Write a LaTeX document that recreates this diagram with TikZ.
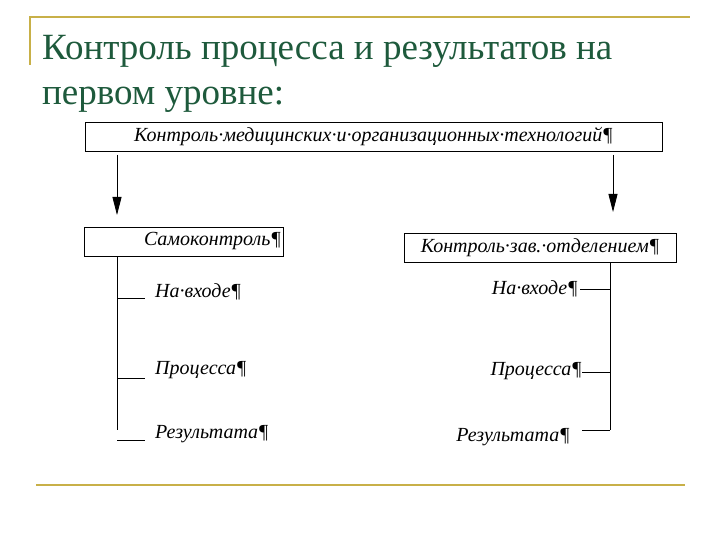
\documentclass[tikz,border=0pt]{standalone}
\usepackage{fontspec}
\setmainfont{Liberation Serif}
\usetikzlibrary{arrows.meta}
\begin{document}
\begin{tikzpicture}[x=1pt,y=-1pt,
  box/.style={draw,line width=0.8pt,minimum height=29pt,inner sep=0pt,font=\itshape\fontsize{20}{20}\selectfont},
  lbl/.style={inner sep=0pt,font=\itshape\fontsize{20}{20}\selectfont},
  ln/.style={line width=0.8pt},
  arr/.style={line width=0.8pt,-{Triangle[length=18pt,width=9pt]}}]
\definecolor{olive}{HTML}{C8B048}
\definecolor{ttl}{HTML}{1E5A3C}
\useasboundingbox (0,0) rectangle (720,540);
\fill[white] (0,0) rectangle (720,540);
\draw[olive,line width=2pt] (30,65) -- (30,17) -- (690,17);
\draw[olive,line width=2pt] (36,485) -- (685,485);
\node[anchor=base west,text=ttl,inner sep=0pt,font=\fontsize{37}{37}\selectfont] (t1) at (42,60) {Контроль процесса и результатов на};
\node[anchor=base west,text=ttl,inner sep=0pt,font=\fontsize{37}{37}\selectfont] (t2) at (42,105) {первом уровне:};
\node[box,minimum width=577pt] (top) at (373.5,136.5) {Контроль·медицинских·и·организационных·технологий¶};
\node[box,minimum width=199pt,text width=195pt,align=right] (self) at (183.5,241.5) {Самоконтроль¶};
\node[box,minimum width=272pt] (head) at (540,247.5) {Контроль·зав.·отделением¶};
\coordinate (a1) at (117,155); \coordinate (a2) at (117,215);
\coordinate (b1) at (613,155); \coordinate (b2) at (613,212);
\draw[arr] (a1) -- (a2);
\draw[arr] (b1) -- (b2);
% left branch
\coordinate (lv) at (117,430);
\draw[ln] (117,256) -- (lv);
\node[lbl,anchor=west] (l1) at (155,292) {На·входе¶};
\node[lbl,anchor=west] (l2) at (155,370) {Процесса¶};
\node[lbl,anchor=west] (l3) at (155,434) {Результата¶};
\draw[ln] (117,298) -- (145,298);
\draw[ln] (117,378) -- (145,378);
\draw[ln] (117,440) -- (145,440);
% right branch
\draw[ln] (610,262) -- (610,430);
\node[lbl,anchor=east] (r1) at (578,289) {На·входе¶};
\node[lbl,anchor=east] (r2) at (582,371) {Процесса¶};
\node[lbl,anchor=east] (r3) at (570,437) {Результата¶};
\draw[ln] (580,289) -- (610,289);
\draw[ln] (582,372) -- (610,372);
\draw[ln] (582,430) -- (610,430);
\end{tikzpicture}
\end{document}
